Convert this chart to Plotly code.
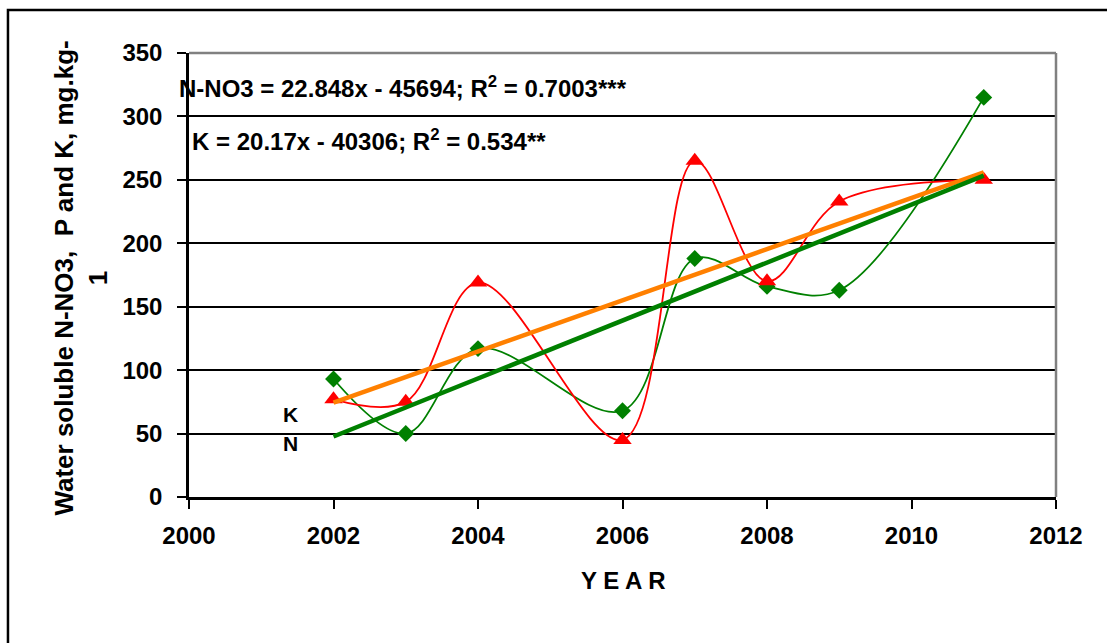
import plotly.graph_objects as go

# Sampling years and measured concentrations (mg/kg)
years = [2002, 2003, 2004, 2006, 2007, 2008, 2009, 2011]
n_no3 = [93, 50, 117, 68, 188, 166, 163, 315]
k_vals = [77, 75, 169, 45, 265, 170, 233, 250]

# Linear trend coefficients
n_slope, n_icept = 22.848, -45694
k_slope, k_icept = 20.17, -40306
trend_x = [2002, 2011]

FONT = "Liberation Sans, Arial, sans-serif"

fig = go.Figure()

fig.add_trace(go.Scatter(
    x=years, y=n_no3, mode="lines+markers",
    line=dict(color="#008000", width=1.8, shape="spline", smoothing=1.0),
    marker=dict(symbol="diamond", size=13, color="#008000"),
    showlegend=False))
fig.add_trace(go.Scatter(
    x=years, y=k_vals, mode="lines+markers",
    line=dict(color="#FF0000", width=1.8, shape="spline", smoothing=1.0),
    marker=dict(symbol="triangle-up", size=16, color="#FF0000"),
    showlegend=False))
fig.add_trace(go.Scatter(
    x=trend_x, y=[k_slope * x + k_icept for x in trend_x], mode="lines",
    line=dict(color="#FF8000", width=4.5), showlegend=False))
fig.add_trace(go.Scatter(
    x=trend_x, y=[n_slope * x + n_icept for x in trend_x], mode="lines",
    line=dict(color="#008000", width=4.5), showlegend=False))

tick_font = dict(family=FONT, size=24, color="black")

fig.update_xaxes(
    range=[2000, 2012], tickmode="linear", tick0=2000, dtick=2,
    showgrid=False, zeroline=False,
    showline=True, linecolor="black", linewidth=2.5,
    ticks="outside", ticklen=9, tickwidth=2, tickcolor="black",
    tickfont=tick_font, ticklabelstandoff=6)
fig.update_yaxes(
    range=[0, 350], tickmode="linear", tick0=0, dtick=50,
    showgrid=True, gridcolor="black", gridwidth=2, zeroline=False,
    showline=True, linecolor="black", linewidth=2.5,
    ticks="outside", ticklen=9, tickwidth=2, tickcolor="black",
    tickfont=tick_font, ticklabelstandoff=10)

shapes = [
    # plot area frame (top and right)
    dict(type="line", xref="paper", yref="paper", x0=0, x1=1, y0=1, y1=1,
         line=dict(color="#808080", width=2.5)),
    dict(type="line", xref="paper", yref="paper", x0=1, x1=1, y0=0, y1=1,
         line=dict(color="#808080", width=2.5)),
    # outer chart frame
    dict(type="rect", xref="paper", yref="paper",
         x0=-0.2088, x1=1.08, y0=-0.36, y1=1.0968,
         line=dict(color="black", width=2.5), fillcolor="rgba(0,0,0,0)"),
]

annots = [
    dict(text="N-NO3 = 22.848x - 45694; R<sup>2</sup> = 0.7003***",
         xref="paper", yref="paper", x=-0.0135, y=0.924, xanchor="left", yanchor="middle",
         showarrow=False, font=dict(family=FONT, size=24, color="black")),
    dict(text="K = 20.17x - 40306; R<sup>2</sup> = 0.534**",
         xref="paper", yref="paper", x=0.001, y=0.803, xanchor="left", yanchor="middle",
         showarrow=False, font=dict(family=FONT, size=24, color="black")),
    dict(text="K", xref="paper", yref="paper", x=0.1165, y=0.1847,
         xanchor="center", yanchor="middle", showarrow=False,
         font=dict(family=FONT, size=21, color="black")),
    dict(text="N", xref="paper", yref="paper", x=0.1165, y=0.1216,
         xanchor="center", yanchor="middle", showarrow=False,
         font=dict(family=FONT, size=21, color="black")),
    dict(text="Water soluble N-NO3,  P and K, mg.kg-<br>1",
         xref="paper", yref="paper", x=-0.124, y=0.493, textangle=-90,
         xanchor="center", yanchor="middle", showarrow=False,
         font=dict(family=FONT, size=26, color="black")),
    dict(text="Y E A R", xref="paper", yref="paper", x=0.5, y=-0.189,
         xanchor="center", yanchor="middle", showarrow=False,
         font=dict(family=FONT, size=24, color="black")),
]

fig.update_layout(
    width=1107, height=643,
    margin=dict(l=189, r=51, t=53, b=146),
    paper_bgcolor="white", plot_bgcolor="white",
    font=dict(family=FONT, color="black"),
    shapes=shapes, annotations=annots,
)

# bold text throughout
for a in fig.layout.annotations:
    a.text = "<b>" + a.text + "</b>"
fig.update_xaxes(tickprefix="<b>", ticksuffix="</b>")
fig.update_yaxes(tickprefix="<b>", ticksuffix="</b>")

fig.write_html("out.html")
